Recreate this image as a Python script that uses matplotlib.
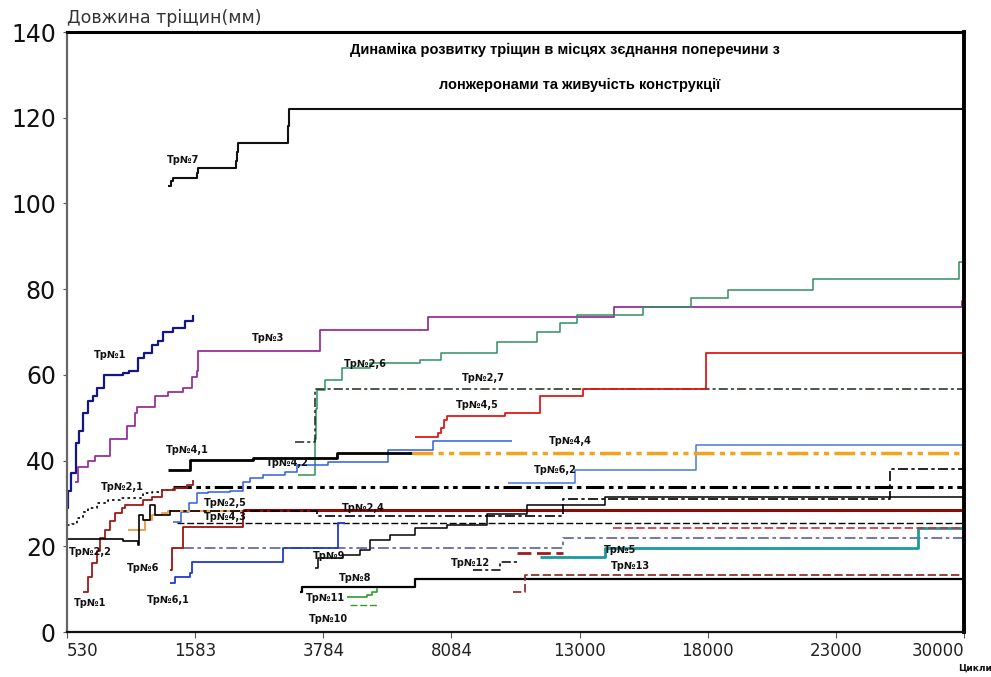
import numpy as np
import matplotlib
matplotlib.use("Agg")
import matplotlib.pyplot as plt

plt.rcParams['font.family'] = ['DejaVu Sans']

# ---------------- data ----------------
cycle_ticks = [530, 1583, 3784, 8084, 13000, 18000, 23000, 30000]
cycle_tick_labels = ['530', '1583', '3784', '8084', '13000', '18000', '23000', '30000']
length_ticks = [0, 20, 40, 60, 80, 100, 120, 140]

title_lines = ['Динаміка розвитку тріщин в місцях зєднання поперечини з',
               'лонжеронами та живучість конструкції']
y_title = 'Довжина тріщин(мм)'
x_title = 'Цикли'

tr7_x = [1361, 1385, 1402, 1617, 1640, 2288, 2300, 2320, 3182, 3200, 30000]
tr7_y = [104.0, 105.2, 106.0, 107.2, 108.2, 110.0, 112.0, 114.2, 118.0, 122.0, 122.0]

tr1_x = [530, 540, 560, 600, 630, 665, 705, 740, 780, 830, 990, 1040, 1110, 1160, 1230, 1280, 1320, 1400, 1500, 1567]
tr1_y = [29, 33, 37, 44, 47, 51, 54, 55, 57, 60, 60.5, 61, 64, 65, 67, 68, 70, 71, 72.5, 74]

tr3_x = [596, 620, 700, 761, 884, 1024, 1090, 1106, 1254, 1361, 1485, 1558, 1617, 1635, 3733, 7312, 14340, 29890, 30000]
tr3_y = [35, 38.5, 40, 41, 45, 48, 51, 52.5, 55, 56, 57, 59.5, 61, 65.5, 70.5, 73.5, 75.8, 77.3, 77.3]

tr2_6_x = [3355, 3640, 3660, 3680, 3850, 4420, 5360, 7040, 7720, 9840, 11360, 12240, 12900, 15480, 17330, 18780, 22110, 29730, 30000]
tr2_6_y = [36.6, 45, 52, 56.5, 58.8, 61.6, 62.8, 63.5, 65, 67.7, 70, 72, 74, 75.8, 78, 79.8, 82.3, 86.3, 86.3]

tr2_7_x = [3300, 3650, 30000]
tr2_7_y = [44.3, 56.7, 56.7]

tr4_5_x = [6875, 7650, 7720, 7820, 7950, 10140, 11475, 13120, 17925, 30000]
tr4_5_y = [45.5, 46.5, 47.5, 49.5, 50.5, 51.2, 55, 56.7, 65, 65]

tr4_1_x = [1361, 1540, 2580, 4250, 6775]
tr4_1_y = [37.8, 40.1, 40.7, 41.7, 41.7]

tr4_4_x = [6775, 30000]
tr4_4_y = [41.8, 41.8]

tr4_2_x = [1402, 1468, 1534, 1617, 1807, 2185, 2409, 2529, 2753, 3131, 3337, 3952, 5968, 7480, 10400]
tr4_2_y = [25.7, 28, 30, 32.4, 32.7, 33, 35, 36, 36.6, 37.3, 39, 39.7, 42.5, 44.6, 44.6]

tr6_2_x = [10256, 12810, 17531, 30000]
tr6_2_y = [34.8, 37.8, 43.6, 43.6]

tr2_1a_x = [530, 571, 612, 660, 703, 777, 867, 966, 1155, 1230, 1312, 1402]
tr2_1a_y = [25, 25.2, 26.6, 28, 29, 30, 30.8, 31.2, 32.4, 32.7, 33.1, 33.8]

tr2_1_x = [1402, 30000]
tr2_1_y = [33.8, 33.8]

tr1b_x = [662, 703, 736, 777, 802, 843, 884, 925, 983, 1007, 1155, 1230, 1312, 1419, 1518, 1567]
tr1b_y = [9.3, 12.8, 16, 19, 22, 23.8, 26, 27.8, 28.9, 29.6, 30.8, 31.5, 33.1, 33.6, 34.3, 35.5]

tr2_2_x = [530, 991, 1114, 1122, 1155, 1213, 1254, 1378]
tr2_2_y = [21.7, 21.2, 20.3, 27.3, 26.1, 29.6, 27.3, 28.5]

tr2_2b_x = [1378, 2408, 3681, 12352, 25953, 30000]
tr2_2b_y = [28.2, 28.2, 27.1, 31.0, 38.0, 38.0]

tr2_5_x = [1032, 1131, 1172, 1230, 1312, 1361, 2408]
tr2_5_y = [23.8, 23.8, 26.1, 27.3, 27.8, 28.2, 28.2]

tr6_x = [1378, 1394, 1476, 1484, 2305, 2408]
tr6_y = [14.5, 19.6, 19.6, 24.5, 24.5, 28.5]

tr6c_x = [1484, 12352, 30000]
tr6c_y = [19.6, 21.9, 21.9]

tr2_4_x = [2408, 30000]
tr2_4_y = [28.5, 28.5]

tr6_1_x = [1378, 1419, 1542, 1558, 3097, 4288, 4523]
tr6_1_y = [11.4, 12.8, 13.8, 16.3, 19.6, 25.4, 25.4]

tr4_3_x = [1435, 30000]
tr4_3_y = [25.5, 25.5]

tr9_x = [3647, 3699, 4456, 5027, 5363, 6035, 6875, 7950, 9456, 10980, 13984, 30000]
tr9_y = [14.9, 17.3, 18.0, 19.1, 21.5, 22.6, 24.3, 25.0, 27.5, 29.6, 31.4, 31.4]

tr8_x = [3389, 3423, 6875, 30000]
tr8_y = [9.3, 10.5, 12.4, 12.4]

tr11_x = [4590, 5128, 5262, 5430, 5598]
tr11_y = [8.2, 8.2, 8.6, 9.3, 10.3]

tr10_x = [4691, 5598]
tr10_y = [6.3, 6.3]

tr12_x = [8922, 9951, 10599]
tr12_y = [14.5, 16.3, 16.3]

tr12b_x = [10599, 12352]
tr12b_y = [18.4, 18.4]

tr13_x = [10446, 10903, 30000]
tr13_y = [9.3, 13.3, 13.3]

tr5_x = [11475, 13984, 27485, 30000]
tr5_y = [17.5, 19.6, 24.3, 24.3]

tr5b_x = [14299, 30000]
tr5b_y = [24.3, 24.3]

# ---------------- styles ----------------
DD = (0, (6, 1.5, 1.5, 1.5, 1.5, 1.5))
DA = (0, (6, 2, 2, 2))
DS = (0, (5, 2))
DT = (0, (1.5, 2))

series = [
    (tr7_x, tr7_y, '#111111', 1.5, '-'),
    (tr1_x, tr1_y, '#15158a', 1.6, '-'),
    (tr3_x, tr3_y, '#9a2f9a', 1.3, '-'),
    (tr2_6_x, tr2_6_y, '#2f8f5f', 1.1, '-'),
    (tr2_7_x, tr2_7_y, '#1a2a1a', 1.1, DA),
    (tr4_5_x, tr4_5_y, '#e01818', 1.3, '-'),
    (tr4_2_x, tr4_2_y, '#2f5fe0', 1.1, '-'),
    (tr6_2_x, tr6_2_y, '#4a78d8', 1.1, '-'),
    (tr4_1_x, tr4_1_y, '#000000', 2.0, '-'),
    (tr4_4_x, tr4_4_y, '#f5a31a', 2.5, DD),
    (tr2_1a_x, tr2_1a_y, '#000000', 1.2, DT),
    (tr2_1_x, tr2_1_y, '#000000', 2.2, DD),
    (tr1b_x, tr1b_y, '#a01818', 1.3, '-'),
    (tr2_5_x, tr2_5_y, '#f0a050', 1.4, '-'),
    (tr6c_x, tr6c_y, '#6a6ab0', 1.3, DA),
    (tr4_3_x, tr4_3_y, '#000000', 1.0, DS),
    (tr2_4_x, tr2_4_y, '#8b0a0a', 2.2, '-'),
    (tr6_x, tr6_y, '#a01010', 1.3, '-'),
    (tr2_2_x, tr2_2_y, '#000000', 1.2, '-'),
    (tr2_2b_x, tr2_2b_y, '#000000', 1.2, DA),
    (tr6_1_x, tr6_1_y, '#1e3ccc', 1.3, '-'),
    (tr9_x, tr9_y, '#000000', 1.1, '-'),
    (tr8_x, tr8_y, '#000000', 1.6, '-'),
    (tr11_x, tr11_y, '#2ca02c', 1.2, '-'),
    (tr10_x, tr10_y, '#2ca02c', 1.0, DS),
    (tr12_x, tr12_y, '#000000', 1.1, DA),
    (tr12b_x, tr12b_y, '#a01c1c', 2.0, DS),
    (tr13_x, tr13_y, '#8b2020', 1.2, DS),
    (tr5_x, tr5_y, '#1a9aa0', 2.0, '-'),
    (tr5b_x, tr5b_y, '#c83030', 1.2, DS),
]

# label texts with pixel positions of their centres (layout only)
labels = [
    ('Тр№7', 183, 160), ('Тр№1', 110, 355), ('Тр№3', 268, 338),
    ('Тр№2,6', 365, 364), ('Тр№2,7', 483, 378), ('Тр№4,5', 477, 405),
    ('Тр№4,4', 570, 441), ('Тр№4,1', 187, 450), ('Тр№4,2', 287, 463),
    ('Тр№6,2', 555, 470), ('Тр№2,1', 122, 487), ('Тр№2,5', 225, 503),
    ('Тр№4,3', 225, 517), ('Тр№2,4', 363, 508), ('Тр№2,2', 90, 552),
    ('Тр№6', 143, 568), ('Тр№9', 329, 556), ('Тр№12', 470, 563),
    ('Тр№5', 620, 550), ('Тр№13', 630, 566), ('Тр№8', 355, 578),
    ('Тр№1', 90, 603), ('Тр№6,1', 168, 600), ('Тр№11', 325, 598),
    ('Тр№10', 328, 619),
]

# ---------------- figure ----------------
W, H = 991, 677
fig = plt.figure(figsize=(W / 100, H / 100), dpi=100)
AX_L, AX_R, AX_T, AX_B = 67, 964, 32, 632
ax = fig.add_axes([AX_L / W, (H - AX_B) / H, (AX_R - AX_L) / W, (AX_B - AX_T) / H])

pos = np.arange(len(cycle_ticks), dtype=float)
ax.set_xscale('function', functions=(lambda x: np.interp(x, cycle_ticks, pos),
                                      lambda p: np.interp(p, pos, cycle_ticks)))
ax.set_xlim(cycle_ticks[0], cycle_ticks[-1])
ax.set_ylim(0, 140)

for xs, ys, c, lw, ls in series:
    ax.plot(xs, ys, drawstyle='steps-post', color=c, lw=lw, linestyle=ls,
            solid_capstyle='butt', dash_capstyle='butt')

ax.set_xticks(cycle_ticks)
ax.set_xticklabels(cycle_tick_labels, fontsize=12, color='#222222')
xtl = ax.get_xticklabels()
xtl[0].set_horizontalalignment('left')
xtl[0].set_x(cycle_ticks[0])
xtl[-1].set_horizontalalignment('right')
ax.set_yticks(length_ticks)
ax.set_yticklabels([str(v) for v in length_ticks], fontsize=17, color='#111111')
ax.tick_params(axis='x', length=4, pad=3, color='#555555')
ax.tick_params(axis='y', length=3, pad=5, color='#555555')

for side, lw, c in [('top', 2.2, '#000000'), ('right', 2.8, '#000000'),
                    ('bottom', 1.6, '#111111'), ('left', 1.6, '#666666')]:
    ax.spines[side].set_linewidth(lw)
    ax.spines[side].set_color(c)

for txt, px, py in labels:
    ax.text((px - AX_L) / (AX_R - AX_L), (AX_B - py) / (AX_B - AX_T), txt,
            transform=ax.transAxes, ha='center', va='center', fontsize=7,
            fontweight='bold', color='#111111')

fig.text(67 / W, 1 - 18 / H, y_title, ha='left', va='center', fontsize=12.5,
         color='#333333')
fig.text(975 / W, 1 - 668 / H, x_title, ha='center', va='center', fontsize=6.5,
         fontweight='bold', color='#111111')
fig.text(565 / W, 1 - 50 / H, title_lines[0], ha='center', va='center',
         fontsize=10.5, fontweight='bold', family=['Liberation Sans', 'DejaVu Sans'])
fig.text(580 / W, 1 - 85 / H, title_lines[1], ha='center', va='center',
         fontsize=10.5, fontweight='bold', family=['Liberation Sans', 'DejaVu Sans'])

fig.savefig('out.png', dpi=100)
